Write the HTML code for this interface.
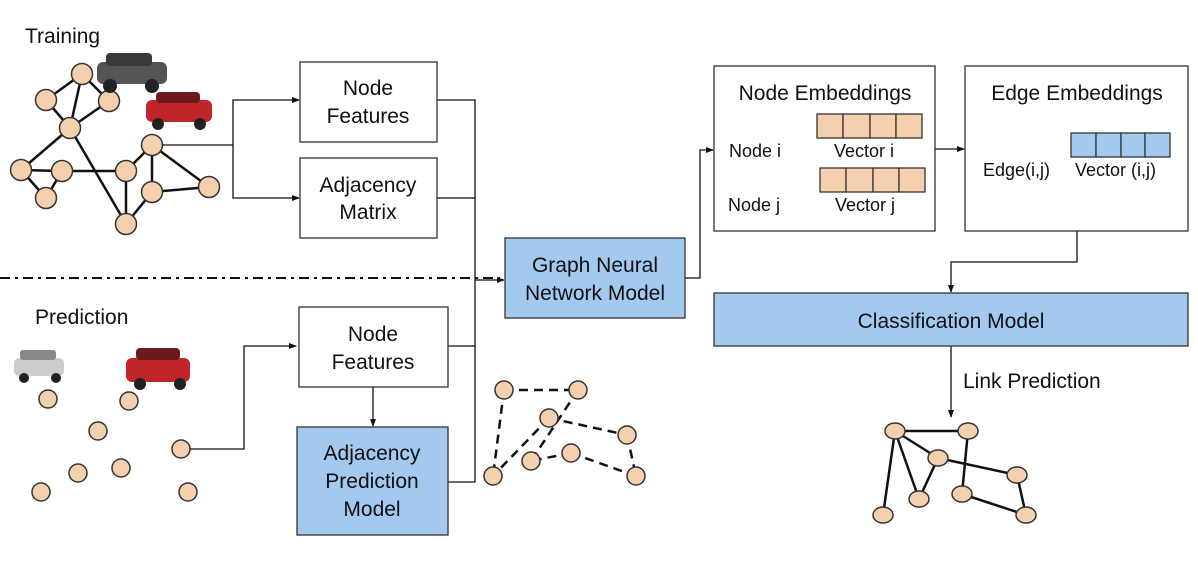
<!DOCTYPE html>
<html><head><meta charset="utf-8"><style>
body{margin:0;background:#fff}
svg{display:block}
text{font-family:"Liberation Sans",sans-serif;fill:#111}
</style></head><body>
<svg width="1198" height="561" viewBox="0 0 1198 561" xmlns="http://www.w3.org/2000/svg">
<defs><marker id="a" markerWidth="8" markerHeight="8" refX="7" refY="4" orient="auto" markerUnits="userSpaceOnUse"><path d="M0,1 L8,4 L0,7z" fill="#111"/></marker></defs>
<g stroke="#111" stroke-width="2.5" fill="none">
<path d="M82,74L46,100M82,74L70,128M82,74L109,101M109,101L70,128M46,100L70,128M70,128L21,170M70,128L126,224M21,170L62,171M21,170L46,198M62,171L46,198M62,171L126,171M126,171L152,145M126,171L126,224M152,145L152,192M152,145L209,187M152,192L209,187M152,192L126,224"/>
<path d="M895,431L968,431M895,431L938,458M895,431L883,515M895,431L919,499M938,458L919,499M938,458L1017,475M968,431L962,494M1017,475L1026,515M962,494L1026,515"/>
</g>
<g stroke="#111" stroke-width="2.5" fill="none" stroke-dasharray="9,6">
<path d="M504,390L578,390M504,390L493,476M578,390L531,461M549,418L493,476M549,418L627,435M627,435L636,476M571,453L531,461M571,453L636,476"/>
</g>
<g fill="#f4d0ae" stroke="#333" stroke-width="1.5">
<circle cx="82" cy="74" r="10.5"/><circle cx="46" cy="100" r="10.5"/><circle cx="109" cy="101" r="10.5"/><circle cx="70" cy="128" r="10.5"/><circle cx="152" cy="145" r="10.5"/><circle cx="21" cy="170" r="10.5"/><circle cx="62" cy="171" r="10.5"/><circle cx="126" cy="171" r="10.5"/><circle cx="46" cy="198" r="10.5"/><circle cx="152" cy="192" r="10.5"/><circle cx="209" cy="187" r="10.5"/><circle cx="126" cy="224" r="10.5"/>
<circle cx="48" cy="399" r="9"/><circle cx="129" cy="401" r="9"/><circle cx="98" cy="431" r="9"/><circle cx="181" cy="449" r="9"/><circle cx="78" cy="473" r="9"/><circle cx="121" cy="468" r="9"/><circle cx="188" cy="492" r="9"/><circle cx="41" cy="492" r="9"/>
<circle cx="504" cy="390" r="9"/><circle cx="578" cy="390" r="9"/><circle cx="549" cy="418" r="9"/><circle cx="627" cy="435" r="9"/><circle cx="571" cy="453" r="9"/><circle cx="531" cy="461" r="9"/><circle cx="493" cy="476" r="9"/><circle cx="636" cy="476" r="9"/>
<ellipse cx="895" cy="431" rx="10" ry="8"/><ellipse cx="968" cy="431" rx="10" ry="8"/><ellipse cx="938" cy="458" rx="10" ry="8"/><ellipse cx="1017" cy="475" rx="10" ry="8"/><ellipse cx="962" cy="494" rx="10" ry="8"/><ellipse cx="919" cy="499" rx="10" ry="8"/><ellipse cx="883" cy="515" rx="10" ry="8"/><ellipse cx="1026" cy="515" rx="10" ry="8"/>
<ellipse cx="753" cy="126" rx="11" ry="9"/><ellipse cx="755" cy="180" rx="11" ry="9"/>
</g>
<g>
<rect x="97" y="62" width="70" height="22" rx="6" fill="#555"/><rect x="106" y="53" width="46" height="13" rx="4" fill="#3a3a3a"/><circle cx="110" cy="86" r="7" fill="#222"/><circle cx="152" cy="86" r="7" fill="#222"/>
<rect x="146" y="100" width="66" height="22" rx="6" fill="#c0252a"/><rect x="156" y="92" width="44" height="11" rx="4" fill="#6a1a1a"/><circle cx="158" cy="124" r="6" fill="#222"/><circle cx="200" cy="124" r="6" fill="#222"/>
<rect x="14" y="358" width="50" height="18" rx="5" fill="#ccc"/><rect x="20" y="350" width="36" height="10" rx="3" fill="#888"/><circle cx="24" cy="378" r="5" fill="#222"/><circle cx="56" cy="378" r="5" fill="#222"/>
<rect x="126" y="358" width="64" height="24" rx="6" fill="#c0252a"/><rect x="136" y="348" width="44" height="12" rx="4" fill="#6a1a1a"/><circle cx="140" cy="384" r="6" fill="#222"/><circle cx="180" cy="384" r="6" fill="#222"/>
</g>
<g stroke="#111" stroke-width="1.3" fill="none">
<path d="M162,145H233V100H299" marker-end="url(#a)"/>
<path d="M233,145V198H299" marker-end="url(#a)"/>
<path d="M437,100H475V482H448M437,198H475M448,346H475"/>
<path d="M475,280H504" marker-end="url(#a)"/>
<path d="M190,449H244V346H296" marker-end="url(#a)"/>
<path d="M373,387V426" marker-end="url(#a)"/>
<path d="M685,278H700V150H713" marker-end="url(#a)"/>
<path d="M935,149H964" marker-end="url(#a)"/>
<path d="M1077,231V262H951V292" marker-end="url(#a)"/>
<path d="M951,346V417" marker-end="url(#a)"/>
<path d="M773,126H812M776,180H815M1037,145H1063" marker-end="url(#a)"/>
<path d="M0,278H500" stroke-width="2" stroke-dasharray="10,5,3,5"/>
<path d="M996,146H1018" stroke-width="3"/>
</g>
<g stroke="#333" stroke-width="1.3">
<rect x="300" y="62" width="137" height="80" fill="#fff"/>
<rect x="300" y="158" width="137" height="80" fill="#fff"/>
<rect x="505" y="238" width="180" height="80" fill="#a4c9ef"/>
<rect x="299" y="307" width="149" height="80" fill="#fff"/>
<rect x="297" y="427" width="151" height="108" fill="#a4c9ef"/>
<rect x="714" y="66" width="221" height="165" fill="#fff"/>
<rect x="965" y="66" width="223" height="165" fill="#fff"/>
<rect x="714" y="293" width="474" height="53" fill="#a4c9ef"/>
<rect x="817" y="114" width="26" height="24" fill="#f4d0ae"/><rect x="843" y="114" width="27" height="24" fill="#f4d0ae"/><rect x="870" y="114" width="26" height="24" fill="#f4d0ae"/><rect x="896" y="114" width="26" height="24" fill="#f4d0ae"/>
<rect x="820" y="168" width="26" height="24" fill="#f4d0ae"/><rect x="846" y="168" width="27" height="24" fill="#f4d0ae"/><rect x="873" y="168" width="26" height="24" fill="#f4d0ae"/><rect x="899" y="168" width="26" height="24" fill="#f4d0ae"/>
<rect x="1071" y="133" width="25" height="24" fill="#a4c9ef"/><rect x="1096" y="133" width="25" height="24" fill="#a4c9ef"/><rect x="1121" y="133" width="24" height="24" fill="#a4c9ef"/><rect x="1145" y="133" width="25" height="24" fill="#a4c9ef"/>
</g>
<g font-size="21">
<text x="25" y="43">Training</text>
<text x="35" y="324">Prediction</text>
<g text-anchor="middle">
<text x="368" y="95">Node</text><text x="368" y="123">Features</text>
<text x="368" y="192">Adjacency</text><text x="368" y="219">Matrix</text>
<text x="595" y="272">Graph Neural</text><text x="595" y="300">Network Model</text>
<text x="373" y="341">Node</text><text x="373" y="369">Features</text>
<text x="372" y="460">Adjacency</text><text x="372" y="488">Prediction</text><text x="372" y="516">Model</text>
<text x="825" y="100">Node Embeddings</text>
<text x="1077" y="100">Edge Embeddings</text>
<text x="951" y="328">Classification Model</text>
</g>
<text x="963" y="388">Link Prediction</text>
</g>
<g font-size="18">
<text x="729" y="157">Node i</text><text x="728" y="211">Node j</text>
<text x="834" y="157">Vector i</text><text x="835" y="211">Vector j</text>
<text x="983" y="176">Edge(i,j)</text><text x="1075" y="176">Vector (i,j)</text>
</g>
</svg>
</body></html>
